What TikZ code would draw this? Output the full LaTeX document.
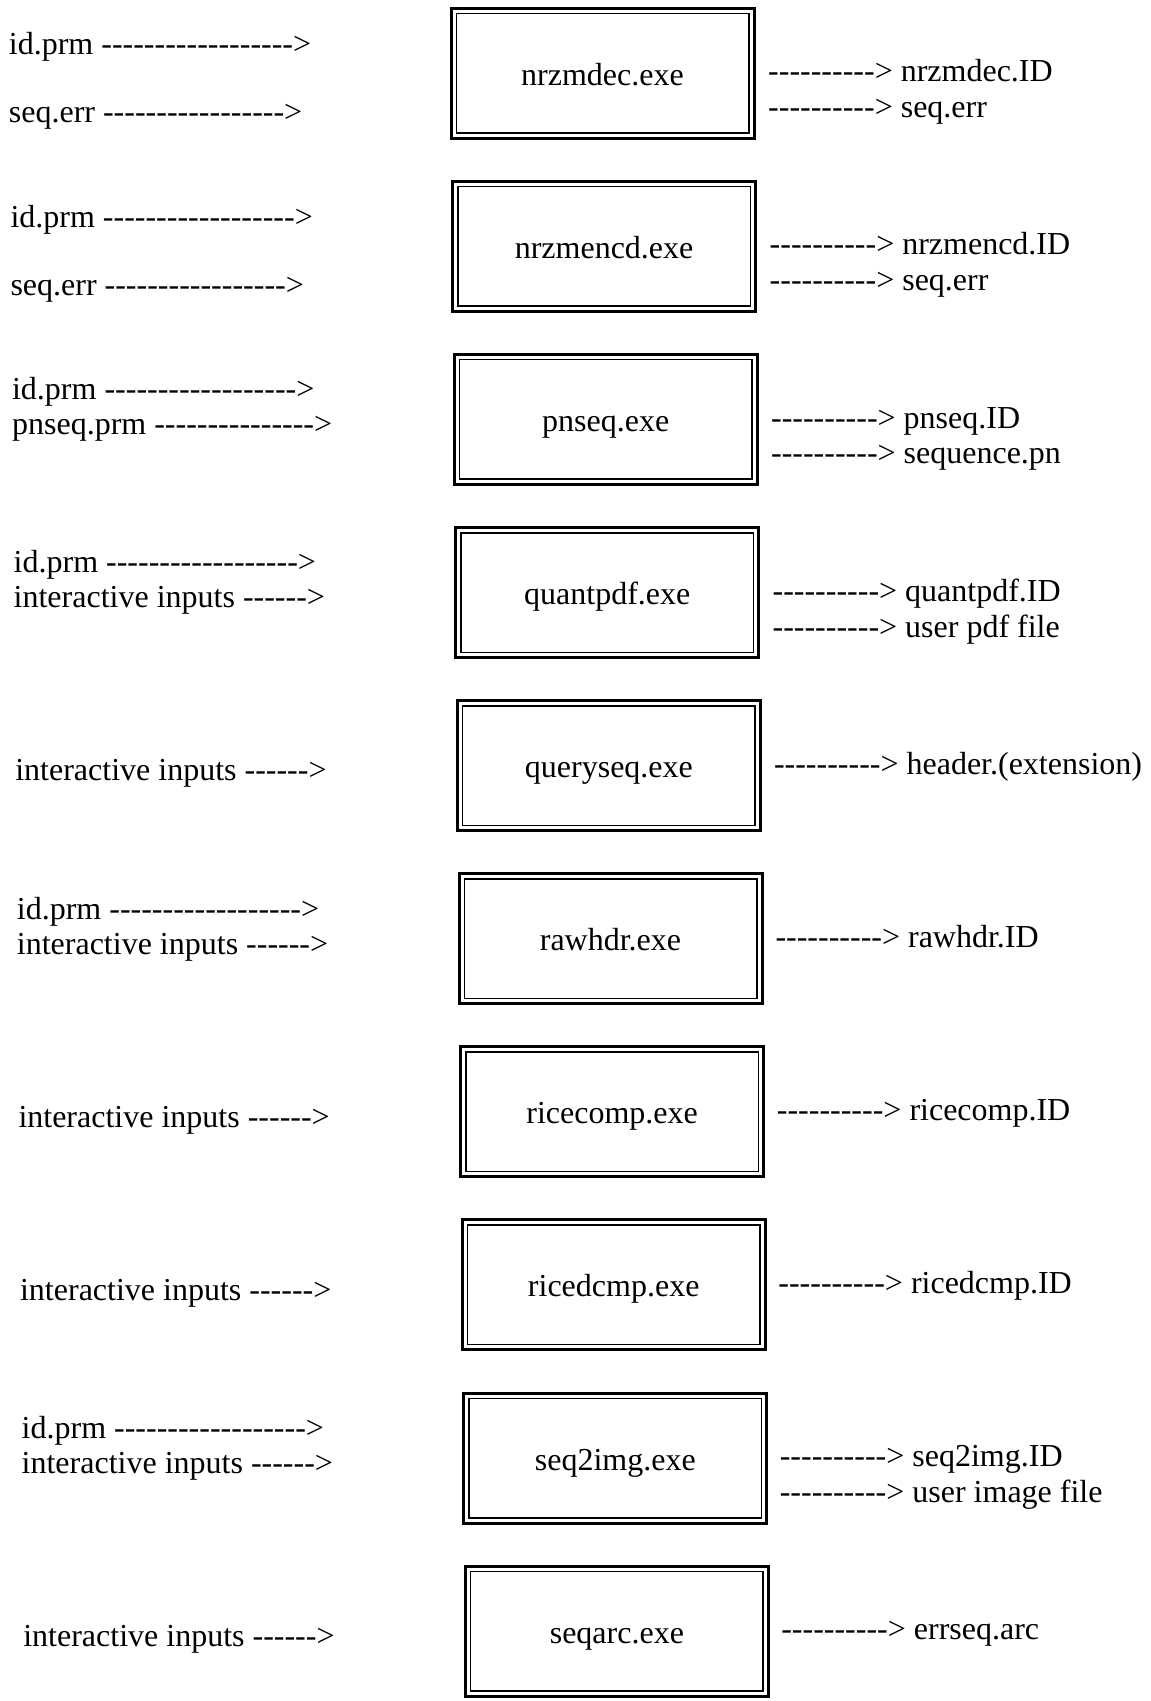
\documentclass[tikz,border=0pt]{standalone}
\usepackage{fontspec}
\newfontfamily\tms{Liberation Serif}
\begin{document}
\begin{tikzpicture}[x=1pt,y=-1pt,
	every node/.style={font=\tms\fontsize{32}{38}\selectfont},
	prog/.style={draw,line width=3pt,minimum width=303pt,minimum height=130pt,inner sep=0pt,
		text height=31pt,text depth=7pt,
		path picture={\draw[line width=1.5pt]
			([shift={(5.25pt,-5.25pt)}]path picture bounding box.north west) rectangle
			([shift={(-5.25pt,5.25pt)}]path picture bounding box.south east);}},
	infile/.style={anchor=base west,inner sep=0pt,yshift=-10.8pt},
	outfile/.style={infile}]
	\useasboundingbox (0,0) rectangle (1151,1701);

	% nrzmdec
	\node (dec) [prog] at (602.5,73.2) {nrzmdec.exe};
	\node (dec-i1) [infile] at (8.7,43.2) {id.prm ------------------>};
	\node (dec-i2) [infile] at (8.7,111.9) {seq.err ----------------->};
	\node (dec-o1) [outfile] at (768,71) {----------> nrzmdec.ID};
	\node (dec-o2) [outfile] at (768,106.9) {----------> seq.err};

	% nrzmencd
	\node (enc) [prog] at (604.1,246.3) {nrzmencd.exe};
	\node (enc-i1) [infile] at (10.3,216.3) {id.prm ------------------>};
	\node (enc-i2) [infile] at (10.3,285) {seq.err ----------------->};
	\node (enc-o1) [outfile] at (769.5,244.1) {----------> nrzmencd.ID};
	\node (enc-o2) [outfile] at (769.5,280) {----------> seq.err};

	% pnseq
	\node (pn) [prog] at (605.7,419.4) {pnseq.exe};
	\node (pn-i1) [infile] at (11.9,388.9) {id.prm ------------------>};
	\node (pn-i2) [infile] at (11.9,423.9) {pnseq.prm --------------->};
	\node (pn-o1) [outfile] at (770.9,417.2) {----------> pnseq.ID};
	\node (pn-o2) [outfile] at (770.9,453.1) {----------> sequence.pn};

	% quantpdf
	\node (qp) [prog] at (607.3,592.5) {quantpdf.exe};
	\node (qp-i1) [infile] at (13.5,562) {id.prm ------------------>};
	\node (qp-i2) [infile] at (13.5,597) {interactive inputs ------>};
	\node (qp-o1) [outfile] at (772.4,590.3) {----------> quantpdf.ID};
	\node (qp-o2) [outfile] at (772.4,626.2) {----------> user pdf file};

	% queryseq
	\node (qs) [prog] at (608.9,765.6) {queryseq.exe};
	\node (qs-i1) [infile] at (15.1,770.1) {interactive inputs ------>};
	\node (qs-o1) [outfile] at (773.8,763.4) {----------> header.(extension)};

	% rawhdr
	\node (rh) [prog] at (610.5,938.7) {rawhdr.exe};
	\node (rh-i1) [infile] at (16.7,908.2) {id.prm ------------------>};
	\node (rh-i2) [infile] at (16.7,943.2) {interactive inputs ------>};
	\node (rh-o1) [outfile] at (775.3,936.5) {----------> rawhdr.ID};

	% ricecomp
	\node (rc) [prog] at (612.1,1111.8) {ricecomp.exe};
	\node (rc-i1) [infile] at (18.3,1116.3) {interactive inputs ------>};
	\node (rc-o1) [outfile] at (776.7,1109.6) {----------> ricecomp.ID};

	% ricedcmp
	\node (rd) [prog] at (613.7,1284.9) {ricedcmp.exe};
	\node (rd-i1) [infile] at (19.9,1289.4) {interactive inputs ------>};
	\node (rd-o1) [outfile] at (778.2,1282.7) {----------> ricedcmp.ID};

	% seq2img
	\node (si) [prog] at (615.3,1458) {seq2img.exe};
	\node (si-i1) [infile] at (21.5,1427.5) {id.prm ------------------>};
	\node (si-i2) [infile] at (21.5,1462.5) {interactive inputs ------>};
	\node (si-o1) [outfile] at (779.6,1455.8) {----------> seq2img.ID};
	\node (si-o2) [outfile] at (779.6,1491.7) {----------> user image file};

	% seqarc
	\node (sa) [prog] at (616.9,1631.1) {seqarc.exe};
	\node (sa-i1) [infile] at (23.1,1635.6) {interactive inputs ------>};
	\node (sa-o1) [outfile] at (781.1,1628.9) {----------> errseq.arc};
\end{tikzpicture}
\end{document}
